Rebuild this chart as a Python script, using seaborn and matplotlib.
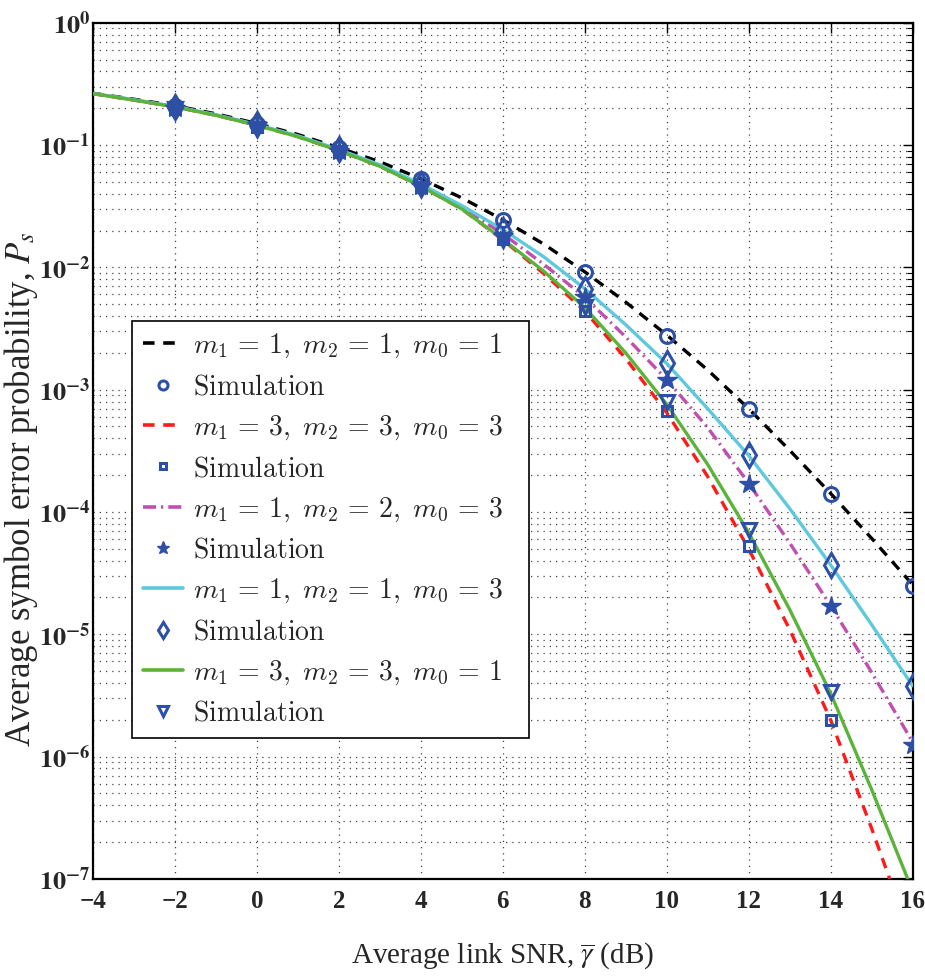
import numpy as np
import pandas as pd
import seaborn as sns
import matplotlib
matplotlib.use("Agg")
import matplotlib.pyplot as plt
from matplotlib.lines import Line2D
from matplotlib.font_manager import FontProperties
from matplotlib.ticker import LogLocator, NullFormatter

# ---------------- data ----------------
snr = list(range(-4, 17))
ps_111 = [0.265, 0.237, 0.210, 0.180, 0.150, 0.122, 0.095, 0.073, 0.053, 0.037, 0.0245,
          0.0155, 0.0092, 0.0052, 0.0028, 0.00145, 7.0e-4, 3.2e-4, 1.42e-4, 6.1e-5, 2.55e-5]
ps_333 = [0.263, 0.233, 0.205, 0.175, 0.145, 0.117, 0.090, 0.067, 0.046, 0.030, 0.0168,
          0.0089, 0.0044, 0.0018, 6.5e-4, 1.95e-4, 5.0e-5, 1.1e-5, 2.0e-6, 2.6e-7, 3.0e-8]
ps_123 = [0.264, 0.234, 0.206, 0.176, 0.146, 0.118, 0.091, 0.068, 0.047, 0.031, 0.0188,
          0.0106, 0.0057, 0.0027, 0.00121, 4.9e-4, 1.72e-4, 5.6e-5, 1.72e-5, 4.9e-6, 1.32e-6]
ps_113 = [0.264, 0.235, 0.207, 0.177, 0.147, 0.119, 0.092, 0.069, 0.048, 0.032, 0.0204,
          0.0122, 0.0067, 0.0034, 0.00164, 7.0e-4, 2.9e-4, 1.07e-4, 3.7e-5, 1.2e-5, 3.8e-6]
ps_331 = [0.263, 0.233, 0.205, 0.175, 0.145, 0.117, 0.090, 0.067, 0.046, 0.030, 0.0170,
          0.0093, 0.0047, 0.0020, 7.6e-4, 2.45e-4, 6.8e-5, 1.6e-5, 3.3e-6, 5.4e-7, 8.0e-8]

sim_snr = [-2, 0, 2, 4, 6, 8, 10, 12, 14, 16]
sim_111 = [0.210, 0.150, 0.094, 0.053, 0.0244, 0.0091, 0.00277, 6.9e-4, 1.4e-4, 2.5e-5]
sim_333_snr = [-2, 0, 2, 4, 6, 8, 10, 12, 14]
sim_333 = [0.200, 0.140, 0.088, 0.045, 0.0170, 0.0044, 6.7e-4, 5.3e-5, 2.0e-6]
sim_123 = [0.202, 0.145, 0.090, 0.046, 0.0180, 0.0057, 0.00120, 1.7e-4, 1.7e-5, 1.24e-6]
sim_113 = [0.206, 0.148, 0.092, 0.048, 0.0202, 0.0067, 0.00164, 2.9e-4, 3.7e-5, 3.8e-6]
sim_331_snr = [-2, 0, 2, 4, 6, 8, 10, 12, 14]
sim_331 = [0.196, 0.136, 0.086, 0.044, 0.0168, 0.0047, 7.9e-4, 7.1e-5, 3.35e-6]

labels = [r"$m_1\,=\,1,\ m_2\,=\,1,\ m_0\,=\,1$",
          r"$m_1\,=\,3,\ m_2\,=\,3,\ m_0\,=\,3$",
          r"$m_1\,=\,1,\ m_2\,=\,2,\ m_0\,=\,3$",
          r"$m_1\,=\,1,\ m_2\,=\,1,\ m_0\,=\,3$",
          r"$m_1\,=\,3,\ m_2\,=\,3,\ m_0\,=\,1$"]
sim_label = r"$\mathrm{Simulation}$"

x_ticks = [-4, -2, 0, 2, 4, 6, 8, 10, 12, 14, 16]
y_exps = [0, -1, -2, -3, -4, -5, -6, -7]

# ---------------- style ----------------
sns.set_theme(style="white")
plt.rcParams["font.family"] = ["Liberation Serif", "DejaVu Serif"]
plt.rcParams["mathtext.fontset"] = "stix"

BLUE = "#2d4fa5"
line_specs = [
    (ps_111, "black", (3.2, 2.4)),
    (ps_333, "#ff1a1a", (3.2, 2.4)),
    (ps_123, "#c04fb0", (3.6, 1.4, 0.6, 1.4)),
    (ps_113, "#5ec8dc", None),
    (ps_331, "#5ab43a", None),
]
sim_specs = [
    (sim_snr, sim_111, "o", 10, False),
    (sim_333_snr, sim_333, "s", 7.5, False),
    (sim_snr, sim_123, "*", 15, True),
    (sim_snr, sim_113, "d", 12, False),
    (sim_331_snr, sim_331, "v", 10.5, False),
]

fig = plt.figure(figsize=(9.25, 9.76), dpi=100)
ax = fig.add_axes([0.1005, 0.0995, 0.886, 0.8772])
ax.set_yscale("log")

for (ys, col, dash) in line_specs:
    sns.lineplot(x=snr, y=ys, ax=ax, color=col, linewidth=2.4, zorder=3)
    ln = ax.lines[-1]
    if dash is not None:
        ln.set_dashes(dash)

for (xs, ys, mk, ms, filled) in sim_specs:
    sns.lineplot(x=xs, y=ys, ax=ax, marker=mk, linestyle="", markersize=ms,
                 markerfacecolor=BLUE if filled else "none",
                 markeredgecolor=BLUE, markeredgewidth=2.2 if not filled else 1.0,
                 color=BLUE, zorder=4)

ax.set_xlim(-4, 16)
ax.set_ylim(1e-7, 1)

ax.set_xticks(x_ticks, labels=[str(v).replace("-", "\u2212") for v in x_ticks],
              fontsize=18, fontweight="bold")
ax.set_yticks([10.0 ** e for e in y_exps],
              labels=[r"$\mathbf{10^{%d}}$" % e for e in y_exps], fontsize=19)
ax.yaxis.set_minor_locator(LogLocator(base=10, subs=np.arange(2, 10), numticks=100))
ax.yaxis.set_minor_formatter(NullFormatter())

ax.tick_params(which="both", direction="in", top=True, right=True, color="black")
ax.tick_params(which="major", length=7, width=1.0)
ax.tick_params(axis="y", which="major", pad=2)
ax.tick_params(axis="x", which="major", pad=8)
ax.tick_params(which="minor", length=4, width=0.8)

ax.grid(which="major", axis="both", linestyle=(0, (1, 4)), color="#444444", linewidth=0.9)
ax.grid(which="minor", axis="y", linestyle=(0, (1, 4)), color="#444444", linewidth=0.9)
ax.set_axisbelow(True)

for sp in ax.spines.values():
    sp.set_color("black")
    sp.set_linewidth(1.6)

ax.set_xlabel(r"Average link SNR, $\overline{\gamma}$ (dB)", fontsize=21, labelpad=20)
ax.set_ylabel(r"Average symbol error probability, $P_s$", fontsize=25)
ax.yaxis.set_label_coords(-0.065, 0.455)

# legend
handles = []
leg_labels = []
for (ys, col, dash), (xs, sy, mk, ms, filled), lab in zip(line_specs, sim_specs, labels):
    h = Line2D([], [], color=col, linewidth=2.6)
    if dash is not None:
        h.set_dashes(dash)
    handles.append(h)
    leg_labels.append(lab)
    handles.append(Line2D([], [], linestyle="", marker=mk, markersize=ms * 0.65,
                          markerfacecolor=BLUE if filled else "none",
                          markeredgecolor=BLUE, markeredgewidth=2.2 if not filled else 1.0))
    leg_labels.append(sim_label)

fp = FontProperties(family="DejaVu Serif", size=20, math_fontfamily="cm")
leg = ax.legend(handles, leg_labels, loc="upper left",
                bbox_to_anchor=(0.0476, 0.164, 0.484, 0.488), mode="expand",
                prop=fp, frameon=True, fancybox=False, framealpha=1,
                edgecolor="black", handlelength=1.45, handletextpad=0.35,
                labelspacing=0.47, borderpad=0.4, borderaxespad=0)
leg.get_frame().set_linewidth(1.2)
leg.set_zorder(10)

fig.savefig("out.png", dpi=100)
